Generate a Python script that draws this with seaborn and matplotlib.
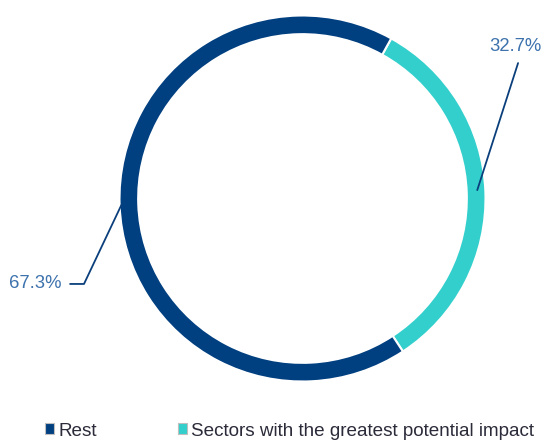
import matplotlib
matplotlib.use("Agg")
import matplotlib.pyplot as plt
from matplotlib.patches import Patch
import seaborn as sns

categories = ["Sectors with the greatest potential impact", "Rest"]
values = [32.7, 67.3]
labels = ["32.7%", "67.3%"]
legend_order = ["Rest", "Sectors with the greatest potential impact"]

sns.set_theme(style="white")
plt.rcParams["font.family"] = ["Liberation Sans", "DejaVu Sans"]

colors = {"Sectors with the greatest potential impact": "#33cfcc", "Rest": "#003f80"}
label_color = "#3d72ad"
line_color = "#0b3f7c"

fig = plt.figure(figsize=(5.45, 4.43), dpi=100)
ax = fig.add_axes([119.5 / 545, (443 - 381.5) / 443, 366 / 545, 366 / 443])
ax.pie(values, colors=[colors[c] for c in categories], startangle=61, counterclock=False,
       radius=1.0, wedgeprops=dict(width=0.102, edgecolor="white", linewidth=1.5))
ax.set_xlim(-1, 1)
ax.set_ylim(-1, 1)
ax.set_aspect("equal")
ax.axis("off")

# leader lines
ax.plot([0.955, 1.178], [0.046, 0.740], color=line_color, lw=1.3, clip_on=False)
ax.text(1.165, 0.83, labels[0], color=label_color, fontsize=13.3, ha="center", va="center")
ax.plot([-0.99, -1.194, -1.27], [-0.036, -0.467, -0.467], color=line_color, lw=1.3, clip_on=False)
ax.text(-1.315, -0.467, labels[1], color=label_color, fontsize=13.3, ha="right", va="center")

handles = [Patch(facecolor=colors[c], edgecolor="#bfbfbf", linewidth=0.8) for c in legend_order]
fig.legend(handles, legend_order, loc="center left", bbox_to_anchor=(28 / 545, 12 / 443),
           ncol=2, frameon=False, fontsize=13.6, handlelength=0.5, handleheight=0.5,
           handletextpad=0.2, columnspacing=4.3, labelcolor="#2b2b3a")

fig.savefig("out.png", dpi=100)
